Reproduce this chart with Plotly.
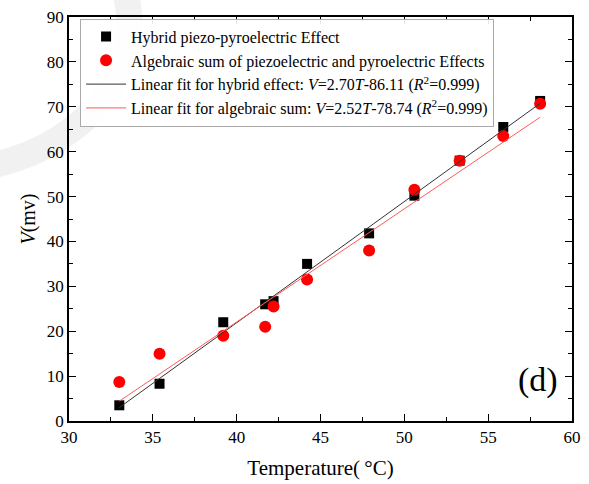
import plotly.graph_objects as go
import numpy as np

# Data
temp_hybrid = [33.0, 35.4, 39.2, 41.7, 42.2, 44.2, 47.9, 50.6, 53.3, 55.9, 58.1]
v_hybrid = [3.5, 8.3, 22.0, 26.0, 26.7, 35.0, 41.8, 50.2, 58.0, 65.5, 71.3]
temp_sum = [33.0, 35.4, 39.2, 41.7, 42.2, 44.2, 47.9, 50.6, 53.3, 55.9, 58.1]
v_sum = [8.7, 15.0, 19.0, 21.0, 25.5, 31.5, 38.0, 51.5, 58.0, 63.5, 70.7]
fit_hybrid = (2.70, -86.11)
fit_sum = (2.52, -78.74)
fit_range = [33.0, 58.1]

font_family = "Liberation Serif, Times New Roman, serif"

fig = go.Figure()
fig.add_trace(go.Scatter(x=temp_hybrid, y=v_hybrid, mode="markers",
                         marker=dict(symbol="square", size=10, color="black"),
                         name="Hybrid piezo-pyroelectric Effect"))
fig.add_trace(go.Scatter(x=temp_sum, y=v_sum, mode="markers",
                         marker=dict(symbol="circle", size=12, color="#ff0000"),
                         name="Algebraic sum of piezoelectric and pyroelectric Effects"))
fx = np.array(fit_range)
fig.add_trace(go.Scatter(x=fx, y=fit_hybrid[0] * fx + fit_hybrid[1], mode="lines",
                         line=dict(color="#333333", width=1),
                         name="Linear fit for hybrid effect: <i>V</i>=2.70<i>T</i>-86.11 (<i>R</i><sup>2</sup>=0.999)"))
fig.add_trace(go.Scatter(x=fx, y=fit_sum[0] * fx + fit_sum[1], mode="lines",
                         line=dict(color="#ff5a5a", width=1),
                         name="Linear fit for algebraic sum: <i>V</i>=2.52<i>T</i>-78.74 (<i>R</i><sup>2</sup>=0.999)"))

axis_common = dict(showline=True, linecolor="black", linewidth=1.5, mirror="ticks",
                   ticks="inside", ticklen=7, tickwidth=1.2, tickcolor="black",
                   showgrid=False, zeroline=False, automargin=False,
                   tickfont=dict(family=font_family, size=17, color="black"))

fig.update_xaxes(range=[30, 60], dtick=5, tick0=30,
                 minor=dict(ticks="inside", dtick=2.5, ticklen=4, tickcolor="black", tickwidth=1),
                 title=dict(text="Temperature(\u2009\u00b0C)", font=dict(family=font_family, size=21, color="black"), standoff=14),
                 **axis_common)
fig.update_yaxes(range=[0, 90], dtick=10, tick0=0,
                 minor=dict(ticks="inside", dtick=5, ticklen=4, tickcolor="black", tickwidth=1),
                 title=dict(text="<i>V</i>(mv)", font=dict(family=font_family, size=20, color="black"), standoff=6),
                 **axis_common)

fig.add_annotation(x=0.976, y=0.05, xref="paper", yref="paper", text="(d)", showarrow=False,
                   xanchor="right", yanchor="bottom",
                   font=dict(family=font_family, size=34, color="black"))

# faint watermark arc
fig.add_shape(type="circle", xref="paper", yref="paper", x0=-0.62, x1=0.12, y0=0.62, y1=1.35,
              line=dict(color="rgba(238,238,238,0.8)", width=26), layer="below")

fig.update_layout(
    width=589, height=484,
    margin=dict(l=69, r=17, t=17, b=63, autoexpand=False),
    paper_bgcolor="white", plot_bgcolor="white",
    font=dict(family=font_family, color="black"),
    showlegend=True,
    legend=dict(x=0.022, y=0.996, xanchor="left", yanchor="top",
                bgcolor="rgba(255,255,255,0.9)", bordercolor="#aaaaaa", borderwidth=1,
                font=dict(family=font_family, size=16, color="black"),
                tracegroupgap=0, itemwidth=40),
)

fig.write_html("out.html")
